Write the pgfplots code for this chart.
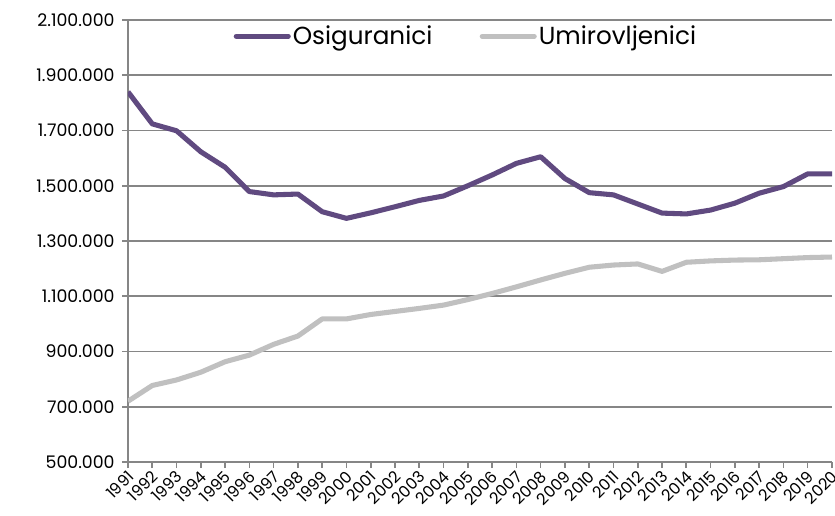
\documentclass[border=0pt]{standalone}
\usepackage{fontspec}
\setmainfont{Poppins}
\usepackage{pgfplots}
\pgfplotsset{compat=1.18}
\definecolor{osig}{RGB}{96,74,128}
\definecolor{umir}{RGB}{192,192,192}
\definecolor{gridc}{RGB}{134,134,134}
\begin{document}
\begin{tikzpicture}
\begin{axis}[
  at={(0,0)}, anchor=south west,
  scale only axis,
  width=528pt, height=331.5pt,
  xmin=1991, xmax=2020,
  ymin=500000, ymax=2100000,
  axis x line*=bottom, axis y line*=left,
  axis line style={gridc, line width=1.2pt},
  xtick={1991,...,2020},
  ytick={500000,700000,...,2100000},
  scaled y ticks=false,
  ymajorgrids,
  major grid style={gridc, line width=1.2pt},
  tick align=outside,
  major tick length=4.5pt,
  tick style={gridc, line width=1.2pt},
  /pgf/number format/assume math mode=true,
  yticklabel style={/pgf/number format/.cd, fixed, 1000 sep={.}, /tikz/.cd, font=\fontsize{13}{15}\selectfont, xshift=-2pt},
  xticklabel style={/pgf/number format/.cd, 1000 sep={}, /tikz/.cd, font=\fontsize{12}{14}\selectfont, xshift=2.5pt, yshift=-4pt, rotate=45, anchor=east, inner sep=0.5pt},
  legend style={at={(0.48,0.998)}, anchor=north, legend columns=2, draw=none, fill=none,
    font=\fontsize{18.5}{20}\selectfont, /tikz/every even column/.append style={column sep=34pt},
    nodes={inner sep=1.5pt}},
  legend cell align=left,
  legend image code/.code={\draw[#1, line cap=round] (0pt,0pt) -- (39pt,0pt);},
]
\addplot[osig, line width=3.8pt, line join=round] coordinates {
(1991,1840000) (1992,1724000) (1993,1699000) (1994,1623000) (1995,1567000)
(1996,1479000) (1997,1467000) (1998,1470000) (1999,1406000) (2000,1382000)
(2001,1402000) (2002,1424000) (2003,1447000) (2004,1463000) (2005,1500000)
(2006,1539000) (2007,1581000) (2008,1605000) (2009,1526000) (2010,1475000)
(2011,1467000) (2012,1434000) (2013,1401000) (2014,1398000) (2015,1412000)
(2016,1437000) (2017,1473000) (2018,1497000) (2019,1543000) (2020,1543000)
};
\addlegendentry{Osiguranici}
\addplot[umir, line width=3.8pt, line join=round] coordinates {
(1991,720000) (1992,777000) (1993,797000) (1994,825000) (1995,863000)
(1996,887000) (1997,926000) (1998,956000) (1999,1018000) (2000,1018000)
(2001,1034000) (2002,1045000) (2003,1056000) (2004,1068000) (2005,1088000)
(2006,1110000) (2007,1134000) (2008,1159000) (2009,1183000) (2010,1205000)
(2011,1213000) (2012,1217000) (2013,1190000) (2014,1223000) (2015,1228000)
(2016,1231000) (2017,1232000) (2018,1236000) (2019,1240000) (2020,1242000)
};
\addlegendentry{Umirovljenici}
\end{axis}
\pgfresetboundingbox
\path (-96pt,-40pt) rectangle (530.25pt,346.5pt);
\end{tikzpicture}
\end{document}
